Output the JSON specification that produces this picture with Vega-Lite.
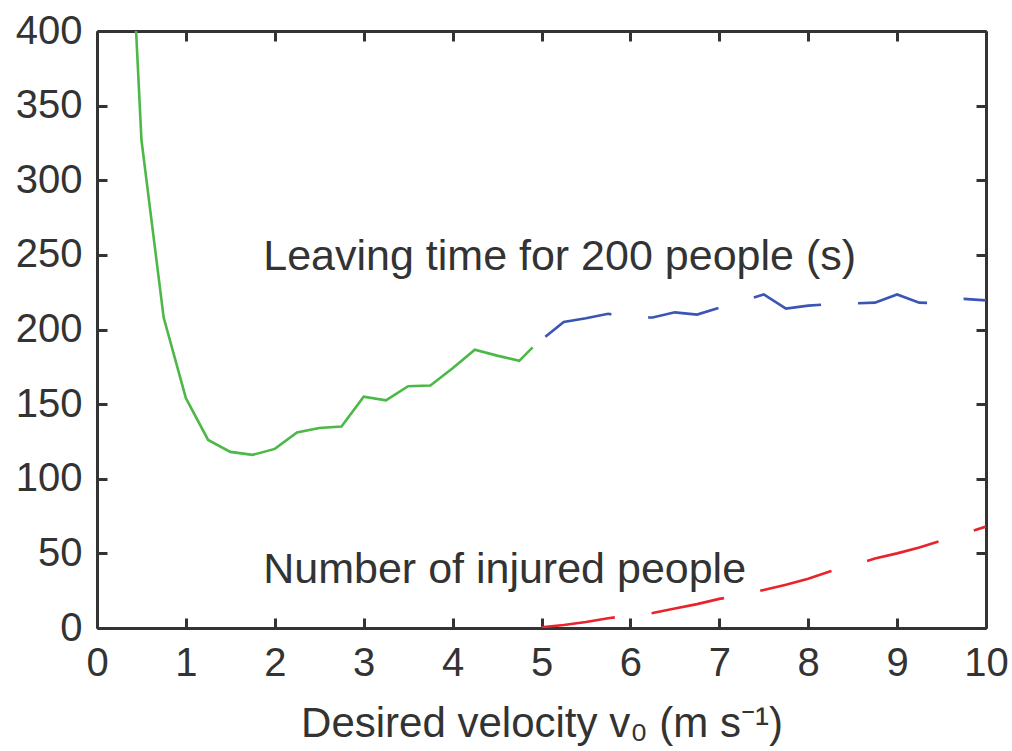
{
  "$schema": "https://vega.github.io/schema/vega-lite/v6.json",
  "autosize": {"type": "none"},
  "width": 889,
  "height": 597,
  "padding": {"left": 97, "top": 31, "right": 26, "bottom": 123},
  "background": "white",
  "config": {
    "view": {"stroke": null},
    "font": "Liberation Sans",
    "axis": {
      "grid": false,
      "domainColor": "#333333",
      "domainWidth": 3,
      "tickColor": "#333333",
      "tickWidth": 3,
      "tickSize": -10,
      "labelFlush": false,
      "labelOverlap": false,
      "labelFont": "Liberation Sans",
      "labelFontSize": 40,
      "labelColor": "#333333",
      "titleFont": "Liberation Sans",
      "titleFontSize": 42,
      "titleFontWeight": "normal",
      "titleColor": "#333333"
    }
  },
  "datasets": {
    "curves": [
      {"series": "leave_lo", "v": 0.25, "value": 630},
      {"series": "leave_lo", "v": 0.5, "value": 327},
      {"series": "leave_lo", "v": 0.75, "value": 208},
      {"series": "leave_lo", "v": 1.0, "value": 154},
      {"series": "leave_lo", "v": 1.25, "value": 126},
      {"series": "leave_lo", "v": 1.5, "value": 118},
      {"series": "leave_lo", "v": 1.75, "value": 116},
      {"series": "leave_lo", "v": 2.0, "value": 120},
      {"series": "leave_lo", "v": 2.25, "value": 131},
      {"series": "leave_lo", "v": 2.5, "value": 134},
      {"series": "leave_lo", "v": 2.75, "value": 135},
      {"series": "leave_lo", "v": 3.0, "value": 155},
      {"series": "leave_lo", "v": 3.25, "value": 152.5},
      {"series": "leave_lo", "v": 3.5, "value": 162},
      {"series": "leave_lo", "v": 3.75, "value": 162.5},
      {"series": "leave_lo", "v": 4.0, "value": 174},
      {"series": "leave_lo", "v": 4.25, "value": 186.5},
      {"series": "leave_lo", "v": 4.5, "value": 182.5},
      {"series": "leave_lo", "v": 4.75, "value": 179},
      {"series": "leave_lo", "v": 4.9, "value": 188},
      {"series": "leave_hi", "v": 5.0, "value": 193},
      {"series": "leave_hi", "v": 5.25, "value": 205},
      {"series": "leave_hi", "v": 5.5, "value": 207.5},
      {"series": "leave_hi", "v": 5.75, "value": 210.5},
      {"series": "leave_hi", "v": 6.0, "value": 208},
      {"series": "leave_hi", "v": 6.25, "value": 208},
      {"series": "leave_hi", "v": 6.5, "value": 211.5},
      {"series": "leave_hi", "v": 6.75, "value": 210},
      {"series": "leave_hi", "v": 7.0, "value": 214.5},
      {"series": "leave_hi", "v": 7.25, "value": 219},
      {"series": "leave_hi", "v": 7.5, "value": 223.5},
      {"series": "leave_hi", "v": 7.75, "value": 214},
      {"series": "leave_hi", "v": 8.0, "value": 216},
      {"series": "leave_hi", "v": 8.25, "value": 217},
      {"series": "leave_hi", "v": 8.5, "value": 217.5},
      {"series": "leave_hi", "v": 8.75, "value": 218},
      {"series": "leave_hi", "v": 9.0, "value": 223.5},
      {"series": "leave_hi", "v": 9.25, "value": 218},
      {"series": "leave_hi", "v": 9.5, "value": 217.5},
      {"series": "leave_hi", "v": 9.75, "value": 220.5},
      {"series": "leave_hi", "v": 10.0, "value": 219.5},
      {"series": "injured", "v": 5.0, "value": 0.5},
      {"series": "injured", "v": 5.25, "value": 2},
      {"series": "injured", "v": 5.5, "value": 4},
      {"series": "injured", "v": 5.75, "value": 6.5},
      {"series": "injured", "v": 6.0, "value": 8.5},
      {"series": "injured", "v": 6.25, "value": 10},
      {"series": "injured", "v": 6.5, "value": 13},
      {"series": "injured", "v": 6.75, "value": 16},
      {"series": "injured", "v": 7.0, "value": 19.5},
      {"series": "injured", "v": 7.25, "value": 22},
      {"series": "injured", "v": 7.5, "value": 25.5},
      {"series": "injured", "v": 7.75, "value": 29},
      {"series": "injured", "v": 8.0, "value": 33},
      {"series": "injured", "v": 8.25, "value": 38},
      {"series": "injured", "v": 8.5, "value": 42},
      {"series": "injured", "v": 8.75, "value": 46.5},
      {"series": "injured", "v": 9.0, "value": 50},
      {"series": "injured", "v": 9.25, "value": 54},
      {"series": "injured", "v": 9.5, "value": 58.5},
      {"series": "injured", "v": 9.75, "value": 63},
      {"series": "injured", "v": 10.0, "value": 68}
    ],
    "notes": [
      {"v": 1.87, "value": 240, "label": "Leaving time for 200 people (s)"},
      {"v": 1.87, "value": 30, "label": "Number of injured people"}
    ]
  },
  "layer": [
    {
      "data": {"name": "curves"},
      "transform": [{"filter": "datum.series === 'leave_lo'"}],
      "mark": {"type": "line", "color": "#4cb848", "strokeWidth": 2.6, "clip": true},
      "encoding": {
        "x": {"field": "v", "type": "quantitative", "scale": {"domain": [0, 10], "nice": false},
          "axis": {"orient": "bottom", "values": [0,1,2,3,4,5,6,7,8,9,10], "labelPadding": 25, "title": "Desired velocity v₀ (m s⁻¹)", "titlePadding": 20}},
        "y": {"field": "value", "type": "quantitative", "scale": {"domain": [0, 400], "nice": false},
          "axis": {"orient": "left", "values": [0,50,100,150,200,250,300,350,400], "labelPadding": 25, "title": null}}
      }
    },
    {
      "data": {"name": "curves"},
      "transform": [{"filter": "datum.series === 'leave_hi'"}],
      "mark": {"type": "line", "color": "#3a55b4", "strokeWidth": 2.6, "clip": true, "strokeDash": [72, 37], "strokeDashOffset": 104},
      "encoding": {
        "x": {"field": "v", "type": "quantitative", "axis": null},
        "y": {"field": "value", "type": "quantitative", "axis": null}
      }
    },
    {
      "data": {"name": "curves"},
      "transform": [{"filter": "datum.series === 'injured'"}],
      "mark": {"type": "line", "color": "#e8232b", "strokeWidth": 2.6, "clip": true, "strokeDash": [74, 37]},
      "encoding": {
        "x": {"field": "v", "type": "quantitative",
          "axis": {"orient": "top", "values": [0,1,2,3,4,5,6,7,8,9,10], "labels": false, "title": null}},
        "y": {"field": "value", "type": "quantitative",
          "axis": {"orient": "right", "values": [0,50,100,150,200,250,300,350,400], "labels": false, "title": null}}
      }
    },
    {
      "data": {"name": "notes"},
      "mark": {"type": "text", "align": "left", "baseline": "alphabetic", "font": "Liberation Sans", "fontSize": 43, "color": "#333333"},
      "encoding": {
        "x": {"field": "v", "type": "quantitative", "axis": null},
        "y": {"field": "value", "type": "quantitative", "axis": null},
        "text": {"field": "label"}
      }
    }
  ],
  "resolve": {"axis": {"x": "independent", "y": "independent"}}
}
